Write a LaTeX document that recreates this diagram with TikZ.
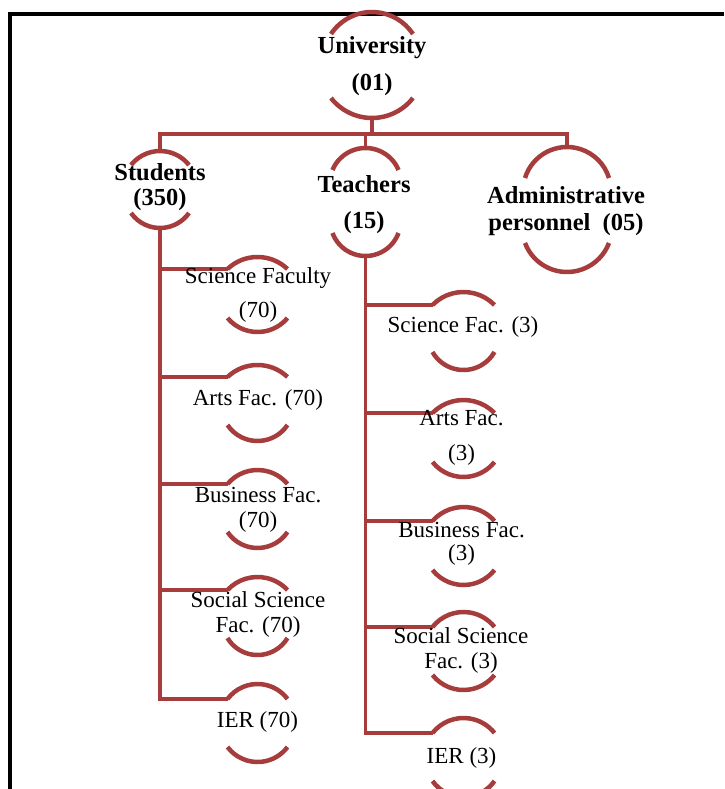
\documentclass[tikz,border=0pt]{standalone}
\usepackage{fontspec}
\setmainfont{Liberation Serif}
\definecolor{ringred}{RGB}{166,60,60}
% #1 name, #2 cx, #3 top, #4 top-arc ends, #5 bottom-arc ends, #6 bottom, #7 half width
\newcommand\ringarcs[7]{%
  \pgfmathsetmacro\rgS{#4-#3}%
  \pgfmathsetmacro\rgR{(#7*#7+\rgS*\rgS)/(2*\rgS)}%
  \pgfmathsetmacro\rgP{asin(#7/\rgR)}%
  \draw[ringarc] (#2-#7,#4) arc[start angle=270-\rgP, end angle=270+\rgP, radius=\rgR];
  \pgfmathsetmacro\rgS{#6-#5}%
  \pgfmathsetmacro\rgR{(#7*#7+\rgS*\rgS)/(2*\rgS)}%
  \pgfmathsetmacro\rgP{asin(#7/\rgR)}%
  \draw[ringarc] (#2-#7,#5) arc[start angle=90+\rgP, end angle=90-\rgP, radius=\rgR];
  \coordinate (#1-t) at (#2,#3);
  \coordinate (#1-l) at (#2-#7,#4);
  \coordinate (#1-b) at (#2,#6);
}
\tikzset{
  conn/.style={draw=ringred, line width=3.5pt},
  ringarc/.style={draw=ringred, line width=4.5pt},
  frameline/.style={draw=black, line width=3.5pt},
  boldlbl/.style={font=\fontsize{24.5}{27}\selectfont\bfseries, align=center, inner sep=0pt},
  lbl/.style={font=\fontsize{23}{25}\selectfont, align=center, inner sep=0pt},
}
\begin{document}
\begin{tikzpicture}[x=1pt,y=1pt,yscale=-1]
\useasboundingbox (0,0) rectangle (724,789);
\fill[white] (0,0) rectangle (724,789);
% frame
\coordinate (fr-r) at (724,14);
\coordinate (fr-c) at (10,14);
\coordinate (fr-b) at (10,789);
\draw[frameline] (fr-r) -- (fr-c) -- (fr-b);

% rings
\ringarcs{uni}{372}{12}{34}{98}{118}{41}
\ringarcs{stu}{160}{151}{165}{213}{228}{29}
\ringarcs{tea}{365.5}{148}{170}{233}{256}{33}
\ringarcs{adm}{567}{147}{178}{243}{272}{42}

\ringarcs{s1}{257.5}{257}{269}{318}{332}{30}
\ringarcs{s2}{257.5}{365}{377}{425}{441}{30}
\ringarcs{s3}{257.5}{470}{484}{532}{548}{30}
\ringarcs{s4}{257.5}{577}{590}{638}{655}{30}
\ringarcs{s5}{257.5}{684}{699}{747}{762}{30}

\ringarcs{t1}{463.5}{292}{305}{352}{370}{31}
\ringarcs{t2}{463.5}{400}{413}{462}{477}{31}
\ringarcs{t3}{463.5}{507}{521}{570}{585}{31}
\ringarcs{t4}{463.5}{612}{627}{675}{690}{31}
\ringarcs{t5}{463.5}{718}{733}{781}{797}{31}

% connectors
\coordinate (bus) at (0,134);
\draw[conn] (uni-b) -- (uni-b |- bus);
\draw[conn] (stu-t) -- (stu-t |- bus) -- (adm-t |- bus) -- (adm-t);
\draw[conn] (tea-t) -- (tea-t |- bus);
\draw[conn] (stu-b) -- (stu-b |- s5-l) -- (s5-l);
\foreach \k in {s1,s2,s3,s4} \draw[conn] (stu-b |- \k-l) -- (\k-l);
\draw[conn] (tea-b) -- (tea-b |- t5-l) -- (t5-l);
\foreach \k in {t1,t2,t3,t4} \draw[conn] (tea-b |- \k-l) -- (\k-l);

% labels
\node[boldlbl] (uni-txt) at (372,66.5) {University\\[10pt](01)};
\node[boldlbl] (stu-txt) at (160,187.5) {Students\\[-2pt](350)};
\node[boldlbl] (tea-txt) at (364,205) {Teachers\\[9pt](15)};
\node[boldlbl] (adm-txt) at (566,211.5) {Administrative\\personnel \hspace{0.25em}(05)};

\node[lbl] (s1-txt) at (258,295) {Science Faculty\\[9pt](70)};
\node[lbl] (s2-txt) at (258,400) {Arts Fac. (70)};
\node[lbl] (s3-txt) at (258,509.5) {Business Fac.\\(70)};
\node[lbl] (s4-txt) at (258,614.5) {Social Science\\Fac. (70)};
\node[lbl] (s5-txt) at (257.5,721.5) {IER (70)};

\node[lbl] (t1-txt) at (463,327) {Science Fac. (3)};
\node[lbl] (t2-txt) at (461.5,437.5) {Arts Fac.\\[10pt](3)};
\node[lbl] (t3-txt) at (461.5,543.5) {Business Fac.\\[-2pt](3)};
\node[lbl] (t4-txt) at (461,650.5) {Social Science\\Fac. (3)};
\node[lbl] (t5-txt) at (461.5,758) {IER (3)};
\end{tikzpicture}
\end{document}
